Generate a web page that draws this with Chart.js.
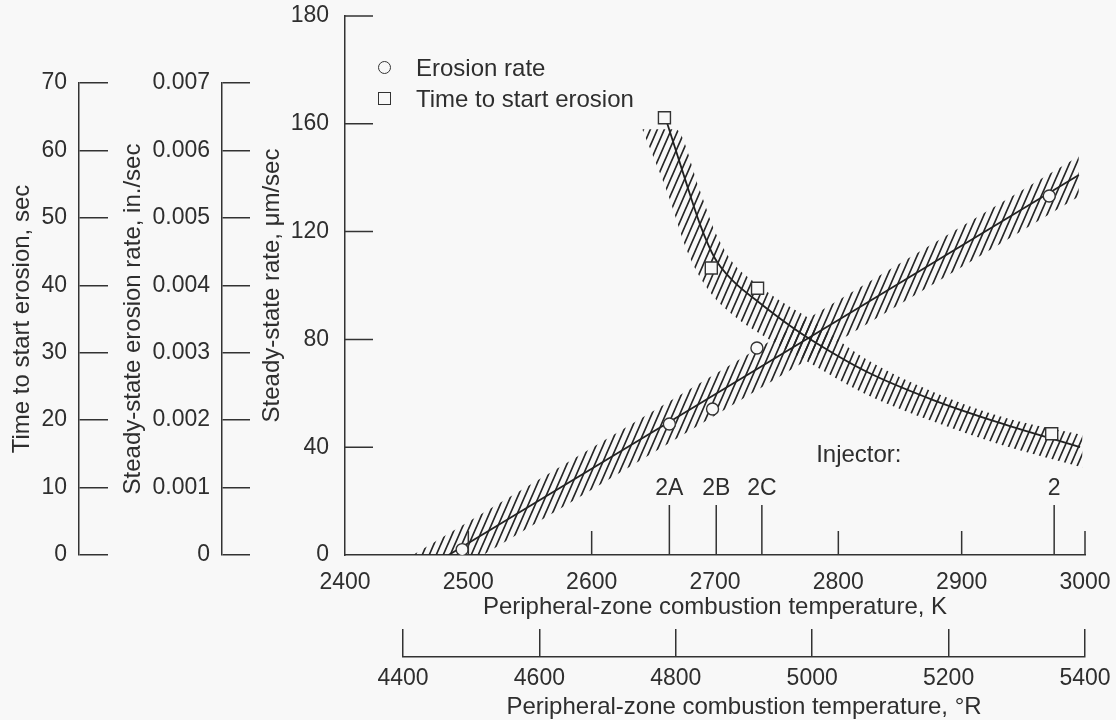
<!DOCTYPE html>
<html>
<head>
<meta charset="utf-8">
<title>Erosion vs peripheral-zone combustion temperature</title>
<script src="https://cdn.jsdelivr.net/npm/chart.js@4.4.1/dist/chart.umd.min.js"></script>
<style>
  html, body { margin: 0; padding: 0; background: #f8f8f8; overflow: hidden; }
  #page { position: relative; width: 1116px; height: 720px; font-family: 'Liberation Sans', Arial, sans-serif; color: #2e2e2e; }
  canvas { position: absolute; }
  #timeAxis { left: 0; top: 0; }
  #inchAxis { left: 112px; top: 0; }
  #mainChart { left: 0; top: 0; }
  #rankineAxis { left: 0; top: 610px; }
  .legend { position: absolute; left: 378px; top: 52px; font-size: 24px; }
  .legend-item { display: flex; align-items: center; height: 31px; }
  .legend-color { width: 11px; height: 11px; border: 1.5px solid #333; margin-right: 25px; box-sizing: content-box; }
  .legend-color.round { border-radius: 50%; }
</style>
</head>
<body>
<div id="page">
  <canvas id="timeAxis" width="112" height="625"></canvas>
  <canvas id="inchAxis" width="142" height="625"></canvas>
  <canvas id="mainChart" width="1116" height="625"></canvas>
  <canvas id="rankineAxis" width="1116" height="112"></canvas>
  <div class="legend" id="legend"></div>
</div>
<script>
// Données
const erosionTemps = [2495, 2663, 2698, 2734, 2971];          // K
const erosionRates = [2, 48.6, 54.2, 76.8, 133.2];             // µm/sec
const startTemps = [2659, 2697, 2734.5, 2973];                 // K
const startTimes = [64.9, 42.6, 39.6, 18.0];                   // sec

const erosionFitTemps = [2484, 2995];
const erosionFitRates = [0, 141];
const erosionBandTopTemps = [2455, 2995];
const erosionBandTop = [0, 148];
const erosionBandLowTemps = [2455, 2512, 2995];
const erosionBandLow = [0, 0, 133];

const startFitTemps = [2660, 2675, 2688, 2700, 2715, 2735, 2758, 2774, 2823, 2877, 2931, 2996];
const startFitTimes = [64.8, 56.2, 49, 44, 40.6, 37.6, 34.4, 32.4, 27.2, 23, 19.6, 16];
const startBandTopTemps = [2641, 2668, 2688, 2700, 2714, 2732, 2754, 2774, 2823, 2877, 2931, 2998];
const startBandTop = [63.2, 63.2, 54, 48, 43.5, 40.5, 37.6, 35.4, 29, 24.2, 20.6, 17.8];
const startBandLowTemps = [2641, 2661, 2679, 2696, 2716, 2742, 2774, 2823, 2877, 2931, 2998];
const startBandLow = [63.2, 54, 44.4, 39, 35.4, 32.2, 28.8, 23.8, 19.8, 16.4, 13];

const injectorNames = ['2A', '2B', '2C', '2'];
const injectorTemps = [2663, 2701, 2738, 2975];

// Graduations
const kelvinTicks = [2400, 2500, 2600, 2700, 2800, 2900, 3000];
const rankineTicks = [4400, 4600, 4800, 5000, 5200, 5400];
const rateTicks = [0, 40, 80, 120, 160, 200];
const rateTickLabels = ['0', '40', '80', '120', '160', '180'];
const timeTicks = [0, 10, 20, 30, 40, 50, 60, 70];
const inchTicks = [0, 0.001, 0.002, 0.003, 0.004, 0.005, 0.006, 0.007];
const inchTickLabels = ['0', '0.001', '0.002', '0.003', '0.004', '0.005', '0.006', '0.007'];

const ink = '#333333';
const fontFamily = "'Liberation Sans', Arial, sans-serif";
Chart.defaults.font.family = fontFamily;
Chart.defaults.color = '#2e2e2e';
Chart.defaults.animation = false;

function toPoints(xs, ys) {
  return xs.map((x, i) => ({ x: x, y: ys[i] }));
}

function setTicks(values) {
  return function (scale) {
    scale.ticks = values.map(v => ({ value: v }));
  };
}

// Taille d'axe fixe, sans marge ajoutée pour les libellés
function fixSize(size) {
  return function (scale) {
    if (scale.isHorizontal()) scale.height = size;
    else scale.width = size;
    scale.paddingTop = 0;
    scale.paddingBottom = 0;
    scale.paddingLeft = 0;
    scale.paddingRight = 0;
  };
}

const plainLabel = value => String(value);

// Motif de hachures
function makeHatch(ctx) {
  const tile = document.createElement('canvas');
  tile.width = 7;
  tile.height = 16;
  const g = tile.getContext('2d');
  g.strokeStyle = '#262626';
  g.lineWidth = 1.7;
  g.beginPath();
  [-7, 0, 7].forEach(dx => {
    g.moveTo(dx - 1, 16 + 16 / 7);
    g.lineTo(dx + 8, -16 / 7);
  });
  g.stroke();
  return ctx.createPattern(tile, 'repeat');
}

// Axe gauche : temps (sec)
new Chart(document.getElementById('timeAxis'), {
  type: 'line',
  data: { datasets: [] },
  options: {
    responsive: false,
    layout: { padding: { top: 83, bottom: 70, right: 4, left: 0 } },
    plugins: { legend: { display: false }, tooltip: { enabled: false } },
    scales: {
      x: { type: 'linear', display: false },
      y: {
        type: 'linear',
        min: 0,
        max: 70,
        afterBuildTicks: setTicks(timeTicks),
        afterFit: fixSize(79),
        grid: { color: ink, lineWidth: 1.5, drawTicks: false },
        border: { color: ink, width: 1.5 },
        ticks: { font: { size: 23 }, padding: 12, callback: plainLabel },
        title: { display: true, text: 'Time to start erosion, sec', font: { size: 24 }, padding: { top: 7.6, bottom: 0 } }
      }
    }
  }
});

// Axe gauche : in./sec
new Chart(document.getElementById('inchAxis'), {
  type: 'line',
  data: { datasets: [] },
  options: {
    responsive: false,
    layout: { padding: { top: 83, bottom: 70, right: 4, left: 0 } },
    plugins: { legend: { display: false }, tooltip: { enabled: false } },
    scales: {
      x: { type: 'linear', display: false },
      y: {
        type: 'linear',
        min: 0,
        max: 0.007,
        afterBuildTicks: setTicks(inchTicks),
        afterFit: fixSize(110),
        grid: { color: ink, lineWidth: 1.5, drawTicks: false },
        border: { color: ink, width: 1.5 },
        ticks: {
          font: { size: 23 },
          padding: 12,
          callback: (value, index) => inchTickLabels[index]
        },
        title: { display: true, text: 'Steady-state erosion rate, in./sec', font: { size: 24 }, padding: { top: 6.6, bottom: 0 } }
      }
    }
  }
});

// Graduations internes et repères d'injecteurs
const axisMarks = {
  id: 'axisMarks',
  afterDraw(chart) {
    const { ctx, scales: { x, y } } = chart;
    const bottom = y.getPixelForValue(0);
    ctx.save();
    ctx.strokeStyle = ink;
    ctx.lineWidth = 1.5;
    ctx.beginPath();
    rateTicks.slice(1).forEach(v => {
      const py = y.getPixelForValue(v);
      ctx.moveTo(x.left, py);
      ctx.lineTo(x.left + 28, py);
    });
    kelvinTicks.slice(1).forEach(v => {
      // pas de petite graduation sous un repère d'injecteur
      if (injectorTemps.some(t => Math.abs(t - v) < 5)) return;
      const px = x.getPixelForValue(v);
      ctx.moveTo(px, bottom);
      ctx.lineTo(px, bottom - 24);
    });
    injectorTemps.forEach(v => {
      const px = x.getPixelForValue(v);
      ctx.moveTo(px, bottom);
      ctx.lineTo(px, bottom - 50);
    });
    ctx.stroke();

    ctx.fillStyle = '#2e2e2e';
    ctx.textBaseline = 'middle';
    ctx.textAlign = 'center';
    ctx.font = '23px ' + fontFamily;
    injectorNames.forEach((name, i) => {
      ctx.fillText(name, x.getPixelForValue(injectorTemps[i]), bottom - 66);
    });
    ctx.textAlign = 'left';
    ctx.font = '24px ' + fontFamily;
    ctx.fillText('Injector:', x.getPixelForValue(2782), y.getPixelForValue(37));
    ctx.restore();
  }
};

const mainCanvas = document.getElementById('mainChart');
const hatch = makeHatch(mainCanvas.getContext('2d'));

const lineStyle = { pointRadius: 0, fill: false };

new Chart(mainCanvas, {
  type: 'line',
  data: {
    datasets: [
      {
        label: 'Erosion rate',
        data: toPoints(erosionTemps, erosionRates),
        yAxisID: 'y',
        showLine: false,
        pointStyle: 'circle',
        pointRadius: 6,
        pointBackgroundColor: '#f8f8f8',
        pointBorderColor: ink,
        pointBorderWidth: 1.4
      },
      {
        label: 'Time to start erosion',
        data: toPoints(startTemps, startTimes),
        yAxisID: 'ySec',
        showLine: false,
        pointStyle: 'rect',
        pointRadius: 8.5,
        pointBackgroundColor: '#f8f8f8',
        pointBorderColor: ink,
        pointBorderWidth: 1.4
      },
      {
        ...lineStyle,
        label: 'Erosion fit',
        data: toPoints(erosionFitTemps, erosionFitRates),
        yAxisID: 'y',
        borderColor: '#222',
        borderWidth: 1.8
      },
      {
        ...lineStyle,
        label: 'Start fit',
        data: toPoints(startFitTemps, startFitTimes),
        yAxisID: 'ySec',
        borderColor: '#222',
        borderWidth: 1.8,
        cubicInterpolationMode: 'monotone'
      },
      {
        label: 'Erosion band top',
        data: toPoints(erosionBandTopTemps, erosionBandTop),
        yAxisID: 'y',
        pointRadius: 0,
        borderWidth: 0,
        backgroundColor: hatch,
        fill: '+1'
      },
      {
        label: 'Erosion band low',
        data: toPoints(erosionBandLowTemps, erosionBandLow),
        yAxisID: 'y',
        pointRadius: 0,
        borderWidth: 0,
        fill: false
      },
      {
        label: 'Start band top',
        data: toPoints(startBandTopTemps, startBandTop),
        yAxisID: 'ySec',
        pointRadius: 0,
        borderWidth: 0,
        backgroundColor: hatch,
        cubicInterpolationMode: 'monotone',
        fill: '+1'
      },
      {
        label: 'Start band low',
        data: toPoints(startBandLowTemps, startBandLow),
        yAxisID: 'ySec',
        pointRadius: 0,
        borderWidth: 0,
        cubicInterpolationMode: 'monotone',
        fill: false
      }
    ]
  },
  options: {
    responsive: false,
    layout: { padding: { top: 16, right: 31, left: 0, bottom: 0 } },
    plugins: { legend: { display: false }, tooltip: { enabled: false } },
    scales: {
      x: {
        type: 'linear',
        min: 2400,
        max: 3000,
        afterBuildTicks: setTicks(kelvinTicks),
        afterFit: fixSize(70),
        grid: { display: false },
        border: { color: ink, width: 1.5 },
        ticks: { font: { size: 23 }, padding: 6, autoSkip: false, maxRotation: 0, callback: plainLabel },
        title: { display: true, text: 'Peripheral-zone combustion temperature, K', font: { size: 24 }, padding: { top: 0, bottom: 3.6 } }
      },
      y: {
        type: 'linear',
        position: 'left',
        min: 0,
        max: 200,
        afterBuildTicks: setTicks(rateTicks),
        afterFit: fixSize(345),
        grid: { display: false },
        border: { color: ink, width: 1.5 },
        ticks: {
          font: { size: 23 },
          padding: 8,
          callback: (value, index) => rateTickLabels[index]
        },
        title: { display: true, text: 'Steady-state rate, μm/sec', font: { size: 24 }, padding: { top: 257.6, bottom: 0 } }
      },
      ySec: {
        type: 'linear',
        display: false,
        min: 0,
        max: 80
      }
    }
  },
  plugins: [axisMarks]
});

// Axe bas : °R
new Chart(document.getElementById('rankineAxis'), {
  type: 'line',
  data: { datasets: [] },
  options: {
    responsive: false,
    layout: { padding: { top: 19, right: 31, left: 403, bottom: 0 } },
    plugins: { legend: { display: false }, tooltip: { enabled: false } },
    scales: {
      y: { type: 'linear', display: false },
      x: {
        type: 'linear',
        min: 4400,
        max: 5400,
        afterBuildTicks: setTicks(rankineTicks),
        afterFit: fixSize(65),
        grid: { color: ink, lineWidth: 1.5, drawTicks: false },
        border: { color: ink, width: 1.5 },
        ticks: { font: { size: 23 }, padding: 8, autoSkip: false, maxRotation: 0, callback: plainLabel },
        title: { display: true, text: 'Peripheral-zone combustion temperature, °R', font: { size: 24 }, padding: { top: 0, bottom: 0.6 } }
      }
    }
  }
});

// Légende
function createLegend(containerId) {
  const container = document.getElementById(containerId);
  const items = [
    { label: 'Erosion rate', shape: 'round' },
    { label: 'Time to start erosion', shape: 'square' }
  ];
  items.forEach(item => {
    const legendItem = document.createElement('div');
    legendItem.className = 'legend-item';
    legendItem.innerHTML = `
      <div class="legend-color ${item.shape}"></div>
      <span class="legend-label">${item.label}</span>
    `;
    container.appendChild(legendItem);
  });
}
createLegend('legend');
</script>
</body>
</html>
